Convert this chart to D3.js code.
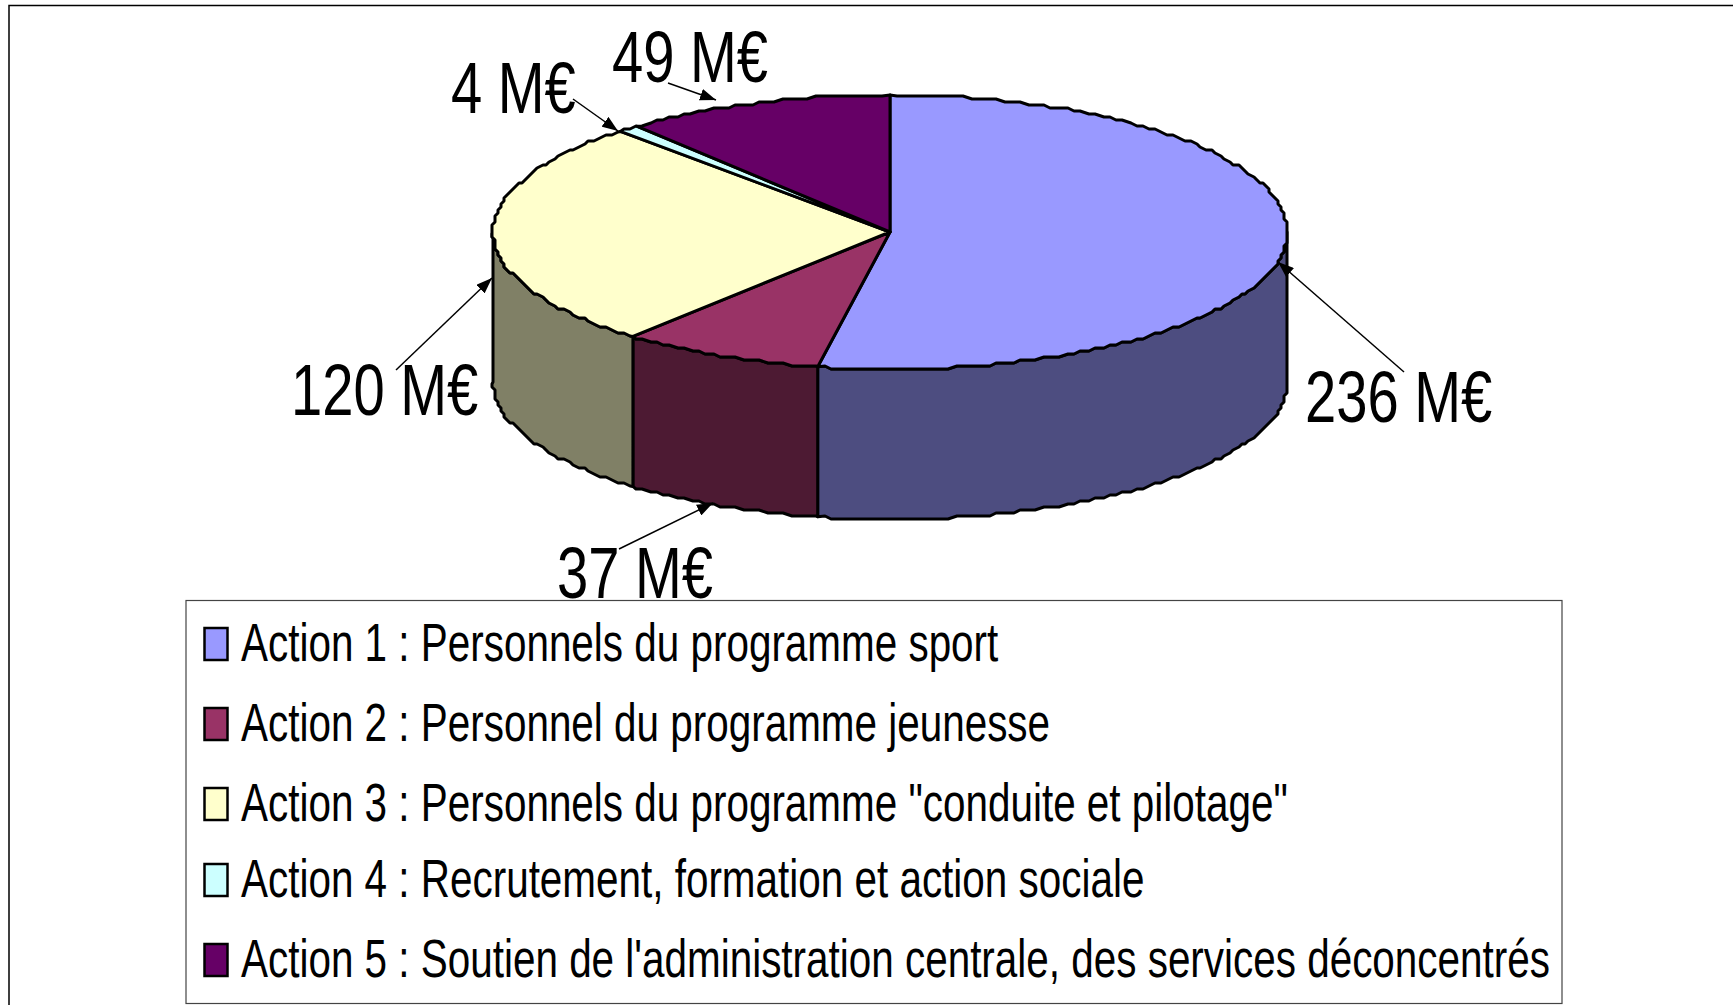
<!DOCTYPE html>
<html>
<head>
<meta charset="utf-8">
<script src="https://cdn.jsdelivr.net/npm/d3@7"></script>
<style>
  html, body { margin: 0; padding: 0; background: #fff; overflow: hidden; }
  svg { display: block; }
  text { font-family: "Liberation Sans", Arial, sans-serif; fill: #000; }
</style>
</head>
<body>
<svg id="chart" width="1733" height="1005"></svg>
<script>
const actions = [
  'Action 1 : Personnels du programme sport',
  'Action 2 : Personnel du programme jeunesse',
  'Action 3 : Personnels du programme "conduite et pilotage"',
  'Action 4 : Recrutement, formation et action sociale',
  "Action 5 : Soutien de l'administration centrale, des services déconcentrés",
];
const amounts = [236, 37, 120, 4, 49];
const unit = ' M€';
const topColors = ['#9999ff', '#993366', '#ffffcc', '#ccffff', '#660066'];
const sideColors = ['#4d4d80', '#4d1a33', '#808066', '#668080', '#330033'];

// callouts, same order as the slices: [text x, baseline, line start x, y, arrow tip x, y]
const callouts = [
  [1305, 422, 1404, 372, 1278, 262],
  [557, 598, 619, 549, 713, 503],
  [291, 415, 396, 370, 492, 278],
  [451, 113, 573, 99, 618, 131],
  [612, 82, 668, 83, 716, 100],
];

const pie3d = { cx: 890, cy: 232, rx: 397, ry: 137, depth: 150, grid: 3, step: Math.PI / 150 };
const legendBox = { x: 186, y: 600.5, width: 1376, height: 403 };
const legendRows = [661, 741, 821, 897, 977];
const legendSqueeze = 0.749;
const labelSqueeze = 0.78;

const svg = d3.select('#chart');

const scaleX = d3.scaleLinear().domain([-1, 1]).range([pie3d.cx - pie3d.rx, pie3d.cx + pie3d.rx]);
const scaleY = d3.scaleLinear().domain([-1, 1]).range([pie3d.cy - pie3d.ry, pie3d.cy + pie3d.ry]);

const slices = d3.pie().sort(null)(amounts);

// the original is a low-res metafile, edges are stair-stepped
const snap = v => Math.round(v / pie3d.grid) * pie3d.grid;

// samples sit on a shared angle grid so top face and side follow the same rim
const rimPoints = (a0, a1, dy = 0) => {
  const first = Math.ceil(a0 / pie3d.step + 1e-6);
  const last = Math.floor(a1 / pie3d.step - 1e-6);
  const inner = d3.range(first, last + 1).map(k => {
    const a = k * pie3d.step;
    return [snap(scaleX(Math.sin(a))), snap(scaleY(-Math.cos(a))) + dy];
  });
  const end = a => [scaleX(Math.sin(a)), scaleY(-Math.cos(a)) + dy];
  return [end(a0), ...inner, end(a1)];
};

const line = d3.line();

const drawFrame = () => {
  svg.append('path')
    .attr('d', 'M9,1005V5.5H1733')
    .attr('fill', 'none')
    .attr('stroke', '#000')
    .attr('stroke-width', 1.5);
};

const drawSides = () => {
  const front = slices
    .map((d, i) => ({
      i,
      a0: Math.max(d.startAngle, Math.PI / 2),
      a1: Math.min(d.endAngle, 1.5 * Math.PI),
    }))
    .filter(d => d.a1 > d.a0);

  svg.append('g').selectAll('path')
    .data(front)
    .join('path')
    .attr('d', d => {
      const upper = rimPoints(d.a0, d.a1);
      const lower = rimPoints(d.a0, d.a1, pie3d.depth).reverse();
      return line(upper.concat(lower)) + 'Z';
    })
    .attr('fill', d => sideColors[d.i])
    .attr('stroke', '#000')
    .attr('stroke-width', 3)
    .attr('stroke-linejoin', 'round');
};

const drawTop = () => {
  svg.append('g').selectAll('path')
    .data(slices)
    .join('path')
    .attr('d', d => {
      const rim = rimPoints(d.startAngle, d.endAngle);
      return line([[pie3d.cx, pie3d.cy]].concat(rim)) + 'Z';
    })
    .attr('fill', (d, i) => topColors[i])
    .attr('stroke', '#000')
    .attr('stroke-width', 3)
    .attr('stroke-linejoin', 'round');
};

const drawCallouts = () => {
  svg.append('defs').append('marker')
    .attr('id', 'arrow')
    .attr('viewBox', '0 0 16 12')
    .attr('refX', 16)
    .attr('refY', 6)
    .attr('markerWidth', 16)
    .attr('markerHeight', 12)
    .attr('markerUnits', 'userSpaceOnUse')
    .attr('orient', 'auto')
    .append('path')
    .attr('d', 'M0,0L16,6L0,12Z')
    .attr('fill', '#000');

  const group = svg.append('g');

  group.selectAll('text')
    .data(amounts)
    .join('text')
    .attr('transform', (d, i) =>
      'translate(' + callouts[i][0] + ',' + callouts[i][1] + ') scale(' + labelSqueeze + ',1)')
    .attr('font-size', 72)
    .text(d => d + unit);

  group.selectAll('line')
    .data(callouts)
    .join('line')
    .attr('x1', d => d[2])
    .attr('y1', d => d[3])
    .attr('x2', d => d[4])
    .attr('y2', d => d[5])
    .attr('stroke', '#000')
    .attr('stroke-width', 1.5)
    .attr('marker-end', 'url(#arrow)');
};

const drawLegend = () => {
  svg.append('rect')
    .attr('x', legendBox.x)
    .attr('y', legendBox.y)
    .attr('width', legendBox.width)
    .attr('height', legendBox.height)
    .attr('fill', 'none')
    .attr('stroke', '#444')
    .attr('stroke-width', 1.2);

  const rows = svg.append('g').selectAll('g')
    .data(actions)
    .join('g')
    .attr('transform', (d, i) => 'translate(0,' + legendRows[i] + ')');

  rows.append('rect')
    .attr('x', 204.5)
    .attr('y', -33)
    .attr('width', 23)
    .attr('height', 32)
    .attr('fill', (d, i) => topColors[i])
    .attr('stroke', '#000')
    .attr('stroke-width', 2.5);

  rows.append('text')
    .attr('transform', 'translate(241,0) scale(' + legendSqueeze + ',1)')
    .attr('font-size', 54)
    .text(d => d);
};

drawFrame();
drawSides();
drawTop();
drawCallouts();
drawLegend();
</script>
</body>
</html>
